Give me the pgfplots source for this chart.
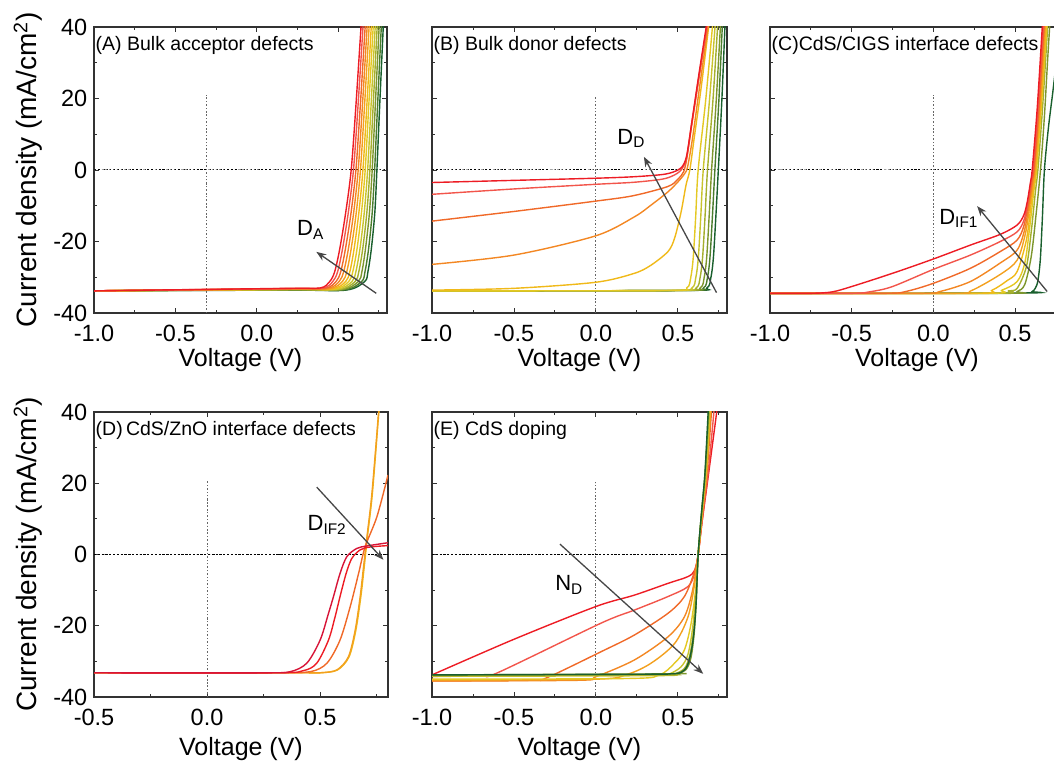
\documentclass[border=0pt]{standalone}
\usepackage{pgfplots}
\pgfplotsset{compat=1.18}
\usepackage{fontspec}
\setmainfont{Liberation Sans}
\usetikzlibrary{arrows.meta}
\definecolor{c0}{RGB}{237,28,36}
\definecolor{c1}{RGB}{242,85,75}
\definecolor{c2}{RGB}{240,105,40}
\definecolor{c3}{RGB}{243,135,35}
\definecolor{c4}{RGB}{243,160,30}
\definecolor{c5}{RGB}{240,185,25}
\definecolor{c6}{RGB}{228,200,35}
\definecolor{c7}{RGB}{200,195,45}
\definecolor{c8}{RGB}{165,175,45}
\definecolor{c9}{RGB}{125,150,45}
\definecolor{c10}{RGB}{75,125,45}
\definecolor{c11}{RGB}{25,95,45}
\definecolor{d1}{RGB}{215,20,55}
\definecolor{frm}{RGB}{50,50,50}
\definecolor{arr}{RGB}{70,70,70}
\tikzset{
 zl/.style={black, dash pattern=on 2.2pt off 1.6pt, line width=1pt},
 vl/.style={black!60, dotted, line width=0.8pt},
 plab/.style={anchor=north west, inner sep=0pt, font=\fontsize{19.5}{23}\selectfont},
 alab/.style={font=\fontsize{22}{26}\selectfont, inner sep=0pt},
 arrw/.style={arr, line width=1.3pt, -{Stealth[length=10pt,width=7.5pt]}},
}
\pgfplotsset{
 jv/.style={
  scale only axis, height=286pt,
  xmin=-1, xmax=0.8, ymin=-40, ymax=40,
  xtick={-1,-0.5,0,0.5}, minor xtick={-0.75,-0.25,0.25,0.75},
  ytick={-40,-20,0,20,40}, minor ytick={-30,-10,10,30},
  tick align=inside, xtick pos=both, ytick pos=both,
  xticklabel pos=left, yticklabel pos=left,
  major tick length=5pt, minor tick length=3pt,
  every tick/.append style={line width=0.9pt, frm},
  axis line style={line width=1.4pt, frm},
  tick label style={font=\fontsize{23.5}{28}\selectfont},
  /pgf/number format/assume math mode=true,
  x tick label style={/pgf/number format/.cd, fixed, fixed zerofill, precision=1, /tikz/.cd, anchor=north, inner sep=0pt, yshift=-12pt},
  y tick label style={anchor=east, inner sep=0pt, xshift=-6.5pt},
  every axis x label/.style={at={(axis description cs:0.5,0)}, anchor=center, yshift=-47pt, font=\fontsize{25}{30}\selectfont},
  every axis y label/.style={at={(axis description cs:0,0.5)}, anchor=center, rotate=90, yshift=66pt, font=\fontsize{28}{32}\selectfont},
  xlabel={Voltage (V)},
  every axis plot/.append style={line width=1.4pt, smooth},
  clip=true,
 },
}
\begin{document}
\begin{tikzpicture}
\useasboundingbox (0,0) rectangle (1054pt,760pt);
% ---------------- Panel A
\begin{axis}[jv, width=293pt, at={(94pt,447pt)}, anchor=south west,
  ylabel={Current density (mA/cm\textsuperscript{2})}]
\addplot[zl] coordinates {(-1,0) (0.8,0)};
\addplot[vl] coordinates {(-0.31,-40) (-0.31,21)};
\addplot[c11] coordinates {(-1,-33.8)(0.2,-33.6)(0.548,-33.6)(0.663,-31.2)(0.683,-28.4)(0.704,-22)(0.725,-12)(0.738,0)(0.755,18)(0.781,44)};
\addplot[c10] coordinates {(-1,-33.8)(0.2,-33.55)(0.534,-33.55)(0.644,-31.2)(0.665,-28.4)(0.687,-22)(0.709,-12)(0.724,0)(0.742,18)(0.769,44)};
\addplot[c9] coordinates {(-1,-33.8)(0.2,-33.51)(0.519,-33.49)(0.624,-31.2)(0.646,-28.4)(0.668,-22)(0.692,-12)(0.709,0)(0.728,18)(0.756,44)};
\addplot[c8] coordinates {(-1,-33.8)(0.2,-33.46)(0.505,-33.44)(0.604,-31.2)(0.627,-28.4)(0.651,-22)(0.676,-12)(0.695,0)(0.715,18)(0.744,44)};
\addplot[c7] coordinates {(-1,-33.8)(0.2,-33.42)(0.491,-33.38)(0.585,-31.2)(0.609,-28.4)(0.634,-22)(0.660,-12)(0.681,0)(0.702,18)(0.732,44)};
\addplot[c6] coordinates {(-1,-33.8)(0.2,-33.37)(0.476,-33.33)(0.565,-31.2)(0.590,-28.4)(0.616,-22)(0.643,-12)(0.666,0)(0.688,18)(0.720,44)};
\addplot[c5] coordinates {(-1,-33.8)(0.2,-33.33)(0.462,-33.27)(0.546,-31.2)(0.572,-28.4)(0.598,-22)(0.627,-12)(0.652,0)(0.676,18)(0.708,44)};
\addplot[c4] coordinates {(-1,-33.8)(0.2,-33.28)(0.447,-33.22)(0.526,-31.2)(0.553,-28.4)(0.580,-22)(0.611,-12)(0.637,0)(0.662,18)(0.695,44)};
\addplot[c3] coordinates {(-1,-33.8)(0.2,-33.24)(0.433,-33.16)(0.506,-31.2)(0.534,-28.4)(0.563,-22)(0.595,-12)(0.623,0)(0.649,18)(0.683,44)};
\addplot[c2] coordinates {(-1,-33.8)(0.2,-33.19)(0.419,-33.11)(0.487,-31.2)(0.516,-28.4)(0.545,-22)(0.579,-12)(0.609,0)(0.636,18)(0.671,44)};
\addplot[c1] coordinates {(-1,-33.8)(0.2,-33.15)(0.404,-33.05)(0.467,-31.2)(0.497,-28.4)(0.527,-22)(0.562,-12)(0.594,0)(0.622,18)(0.658,44)};
\addplot[c0] coordinates {(-1,-33.8)(0.2,-33.1)(0.39,-33.0)(0.448,-31.2)(0.479,-28.4)(0.510,-22)(0.546,-12)(0.580,0)(0.609,18)(0.646,44)};
\draw[arrw] (axis cs:0.734,-34.5) -- (axis cs:0.366,-22.9);
\node[alab] at (axis cs:0.33,-16.8) {D\textsubscript{A}};
\node[plab, xshift=1.5pt, yshift=-9pt] at (rel axis cs:0,1) {(A) Bulk acceptor defects};
\end{axis}
% ---------------- Panel B
\begin{axis}[jv, width=295pt, at={(432pt,447pt)}, anchor=south west, yticklabels={}]
\addplot[zl] coordinates {(-1,0) (0.8,0)};
\addplot[vl] coordinates {(0,-40) (0,20.4)};
\addplot[c11] coordinates {(-1,-33.8)(0.547,-33.7)(0.677,-33.0)(0.702,-30)(0.717,-24.5)(0.732,-13)(0.747,0)(0.769,20)(0.789,42)};
\addplot[c10] coordinates {(-1,-33.8)(0.526,-33.7)(0.656,-33.0)(0.681,-30)(0.696,-24.5)(0.711,-13)(0.726,0)(0.751,20)(0.773,42)};
\addplot[c9] coordinates {(-1,-33.8)(0.506,-33.7)(0.636,-33.0)(0.661,-30)(0.676,-24.5)(0.691,-13)(0.706,0)(0.735,20)(0.762,42)};
\addplot[c8] coordinates {(-1,-33.8)(0.481,-33.7)(0.611,-33.0)(0.636,-30)(0.651,-24.5)(0.666,-13)(0.681,0)(0.715,20)(0.745,42)};
\addplot[c7] coordinates {(-1,-33.8)(0.455,-33.7)(0.585,-33.0)(0.610,-30)(0.625,-24.5)(0.640,-13)(0.655,0)(0.694,20)(0.730,42)};
\addplot[c6] coordinates {(-1,-33.8)(0.424,-33.7)(0.554,-33.0)(0.579,-30)(0.594,-24.5)(0.609,-13)(0.624,0)(0.671,20)(0.715,42)};
\addplot[c5] coordinates {(-1,-33.6)(-0.5,-33.1)(0,-31.4)(0.235,-28.9)(0.337,-26.6)(0.44,-22.8)(0.48,-19.1)(0.52,-11.7)(0.55,-4.2)(0.573,0)(0.60,9)(0.645,24)(0.693,42)};
\addplot[c3] coordinates {(-1,-26.4)(-0.5,-23.8)(0,-18.4)(0.235,-13.1)(0.337,-9.8)(0.44,-6.1)(0.501,-3.3)(0.542,-1.0)(0.56,1)(0.59,9)(0.635,24)(0.69,42)};
\addplot[c2] coordinates {(-1,-14.3)(-0.5,-11.6)(0,-8.7)(0.227,-7.2)(0.44,-4.6)(0.5,-2.6)(0.535,-0.5)(0.555,3.3)(0.585,12.6)(0.63,26)(0.685,42)};
\addplot[c1] coordinates {(-1,-6.8)(-0.5,-5.3)(0,-4.0)(0.227,-3.45)(0.4,-2.6)(0.47,-1.6)(0.52,0)(0.552,3.3)(0.583,12.6)(0.628,26)(0.683,42)};
\addplot[c0] coordinates {(-1,-3.5)(-0.5,-2.9)(0,-2.3)(0.227,-1.9)(0.4,-1.3)(0.47,-0.6)(0.52,0.6)(0.552,3.6)(0.583,12.6)(0.626,26)(0.68,42)};
\draw[arrw] (axis cs:0.736,-34.3) -- (axis cs:0.293,3.7);
\node[alab] at (axis cs:0.215,8.9) {D\textsubscript{D}};
\node[plab, xshift=1.5pt, yshift=-9pt] at (rel axis cs:0,1) {(B) Bulk donor defects};
\end{axis}
% ---------------- Panel C
\begin{axis}[jv, width=294pt, at={(770pt,447pt)}, anchor=south west, yticklabels={}]
\addplot[zl] coordinates {(-1,0) (0.8,0)};
\addplot[vl] coordinates {(0,-40) (0,21)};
\addplot[c11] coordinates {(-1,-34.5)(0.55,-34.4)(0.605,-34.0)(0.625,-33.0)(0.64,-31)(0.655,-25)(0.668,-13)(0.68,0)(0.705,12)(0.732,22)(0.76,33)(0.78,40)(0.79,43)};
\addplot[c9] coordinates {(-1,-34.5)(0.45,-34.5)(0.513,-34.0)(0.56,-32)(0.60,-24)(0.63,-12)(0.656,0)(0.68,15)(0.70,31)(0.712,40)(0.716,43)};
\addplot[c8] coordinates {(-1,-34.5)(0.38,-34.5)(0.46,-33.8)(0.513,-33.1)(0.57,-27)(0.60,-17)(0.625,-6)(0.64,0)(0.668,17)(0.70,40)(0.705,43)};
\addplot[c6] coordinates {(-1,-34.5)(0.33,-34.5)(0.42,-33.6)(0.513,-31.2)(0.56,-26)(0.59,-16)(0.615,-6)(0.632,0)(0.66,17)(0.695,40)(0.70,43)};
\addplot[c5] coordinates {(-1,-34.5)(0.26,-34.5)(0.36,-33.6)(0.45,-31.0)(0.513,-28.4)(0.57,-19.5)(0.60,-9)(0.62,-2.5)(0.627,0)(0.657,17)(0.69,40)(0.695,43)};
\addplot[c4] coordinates {(-1,-34.5)(0.12,-34.5)(0.23,-33.8)(0.41,-29.2)(0.513,-25.2)(0.565,-17.5)(0.595,-8.5)(0.615,-2.5)(0.622,0)(0.652,17)(0.685,40)(0.69,43)};
\addplot[c3] coordinates {(-1,-34.5)(-0.08,-34.5)(0.04,-34.0)(0.227,-31.2)(0.41,-26.0)(0.513,-22.4)(0.56,-16.5)(0.59,-8.5)(0.61,-2.5)(0.618,0)(0.648,17)(0.68,40)(0.685,43)};
\addplot[c2] coordinates {(-1,-34.5)(-0.3,-34.5)(-0.17,-34.0)(0,-31.7)(0.227,-27.5)(0.41,-22.8)(0.513,-19.6)(0.555,-15.5)(0.585,-8.5)(0.605,-2.5)(0.615,0)(0.645,17)(0.677,40)(0.682,43)};
\addplot[c1] coordinates {(-1,-34.5)(-0.5,-34.5)(-0.38,-34.0)(-0.25,-32.6)(0,-27.8)(0.227,-23.8)(0.41,-20.0)(0.513,-17.3)(0.555,-14)(0.58,-8.5)(0.60,-2.5)(0.61,0)(0.64,17)(0.672,40)(0.677,43)};
\addplot[c0] coordinates {(-1,-34.5)(-0.75,-34.5)(-0.62,-34.1)(-0.5,-32.6)(-0.25,-28.9)(0,-24.9)(0.227,-21.0)(0.41,-18.0)(0.513,-15.4)(0.554,-12.6)(0.575,-8.9)(0.595,-3.3)(0.605,0)(0.636,17.3)(0.667,40)(0.672,43)};
\draw[arrw] (axis cs:0.697,-34.0) -- (axis cs:0.268,-10.1);
\node[alab] at (axis cs:0.155,-13.5) {D\textsubscript{IF1}};
\node[plab, xshift=1.5pt, yshift=-9pt] at (rel axis cs:0,1) {(C)CdS/CIGS interface defects};
\end{axis}
% ---------------- Panel D
\begin{axis}[jv, width=294pt, height=285pt, at={(94pt,63pt)}, anchor=south west,
  xmin=-0.5, xtick={-0.5,0,0.5}, minor xtick={-0.25,0.25,0.75},
  every axis x label/.append style={yshift=-5pt},
  ylabel={Current density (mA/cm\textsuperscript{2})}]
\addplot[zl] coordinates {(-0.5,0) (0.8,0)};
\addplot[vl] coordinates {(0,-40) (0,21)};
\addplot[c5] coordinates {(-0.5,-33.2)(0.4,-33.2)(0.503,-33.2)(0.577,-32.4)(0.628,-28.7)(0.658,-21.2)(0.68,-11.8)(0.695,-3.4)(0.709,5.0)(0.731,17.2)(0.759,39.6)(0.763,43)};
\addplot[c4] coordinates {(-0.5,-33.2)(0.4,-33.2)(0.50,-33.2)(0.574,-32.4)(0.625,-28.7)(0.655,-21.2)(0.677,-11.8)(0.692,-3.4)(0.707,5.0)(0.729,17.2)(0.758,39.6)(0.762,43)};
\addplot[c2] coordinates {(-0.5,-33.2)(0.3,-33.2)(0.456,-32.9)(0.53,-30.5)(0.588,-24)(0.633,-14.6)(0.67,-5.3)(0.699,2.2)(0.751,10.6)(0.80,22.3)};
\addplot[c0] coordinates {(-0.5,-33.2)(0.3,-33.2)(0.426,-32.6)(0.485,-30.5)(0.537,-24)(0.566,-17.5)(0.588,-11.8)(0.615,-5.3)(0.640,-1.1)(0.677,1.3)(0.72,2.1)(0.80,2.5)};
\addplot[d1] coordinates {(-0.5,-33.2)(0.25,-33.2)(0.367,-32.9)(0.441,-30.5)(0.50,-24.0)(0.537,-16.5)(0.559,-11.8)(0.588,-5.3)(0.618,-0.6)(0.662,1.7)(0.707,2.4)(0.80,3.3)};
\draw[arrw] (axis cs:0.485,18.9) -- (axis cs:0.78,-1.5);
\node[alab] at (axis cs:0.53,8.3) {D\textsubscript{IF2}};
\node[plab, xshift=1.5pt, yshift=-9pt] at (rel axis cs:0,1) {(D)\,CdS/ZnO interface defects};
\end{axis}
% ---------------- Panel E
\begin{axis}[jv, width=295pt, height=285pt, at={(432pt,63pt)}, anchor=south west, yticklabels={},
  every axis x label/.append style={yshift=-5pt}]
\addplot[zl] coordinates {(-1,0) (0.8,0)};
\addplot[vl] coordinates {(0,-40) (0,20.3)};
\addplot[c0] coordinates {(-1,-33.8)(-0.5,-23.8)(0,-14.6)(0.235,-11.4)(0.44,-8.1)(0.562,-6.2)(0.603,-4.4)(0.624,0)(0.644,7.8)(0.685,21.8)(0.736,39.6)(0.74,42)};
\addplot[c1] coordinates {(-1,-34.2)(-0.7,-34.0)(-0.6,-33.2)(0.03,-19.3)(0.235,-15.6)(0.44,-11.8)(0.562,-9.0)(0.603,-5.3)(0.624,0)(0.655,12)(0.685,23)(0.72,40)(0.725,44)};
\addplot[c2] coordinates {(-1,-35.5)(-0.4,-35.3)(-0.3,-34.6)(0.031,-27.3)(0.235,-22.6)(0.44,-16.5)(0.54,-11.8)(0.60,-5)(0.624,0)(0.652,12)(0.678,23)(0.705,40)(0.71,44)};
\addplot[c3] coordinates {(-1,-35.5)(-0.1,-35.3)(0.0,-34.3)(0.235,-29.6)(0.44,-23.1)(0.54,-17.5)(0.59,-10)(0.624,0)(0.65,12)(0.675,23)(0.70,40)(0.705,44)};
\addplot[c4] coordinates {(-1,-35.3)(0.0,-35.0)(0.194,-33.6)(0.337,-30.5)(0.48,-25)(0.562,-17.5)(0.603,-8.1)(0.624,0)(0.65,12)(0.675,23)(0.698,40)(0.703,44)};
\addplot[c6] coordinates {(-1,-35.0)(0.2,-34.8)(0.388,-33.8)(0.48,-30.5)(0.54,-26.8)(0.581,-19.3)(0.613,-8.1)(0.624,0)(0.648,12)(0.672,23)(0.695,40)(0.70,44)};
\addplot[c7] coordinates {(-1,-34.2)(0.38,-34.0)(0.45,-33.5)(0.52,-31.5)(0.562,-28)(0.592,-20)(0.612,-9)(0.624,0)(0.647,12)(0.67,23)(0.692,40)(0.697,44)};
\addplot[c8] coordinates {(-1,-34.0)(0.40,-33.8)(0.48,-33.5)(0.54,-32)(0.572,-28.5)(0.598,-21)(0.612,-12)(0.624,0)(0.646,12)(0.668,23)(0.69,40)(0.695,44)};
\addplot[c9] coordinates {(-1,-33.8)(0.45,-33.5)(0.50,-33.3)(0.55,-32.3)(0.58,-29)(0.60,-22)(0.612,-13)(0.624,0)(0.645,12)(0.666,23)(0.687,40)(0.692,44)};
\addplot[c11] coordinates {(-1,-33.8)(0.3,-33.6)(0.45,-33.5)(0.52,-33.1)(0.56,-31)(0.59,-25)(0.61,-15)(0.624,0)(0.645,12)(0.665,22.5)(0.685,40)(0.69,44)};
\draw[arrw] (axis cs:-0.219,2.9) -- (axis cs:0.655,-33.5);
\node[alab] at (axis cs:-0.164,-8.6) {N\textsubscript{D}};
\node[plab, xshift=1.5pt, yshift=-9pt] at (rel axis cs:0,1) {(E) CdS doping};
\end{axis}
\end{tikzpicture}
\end{document}
